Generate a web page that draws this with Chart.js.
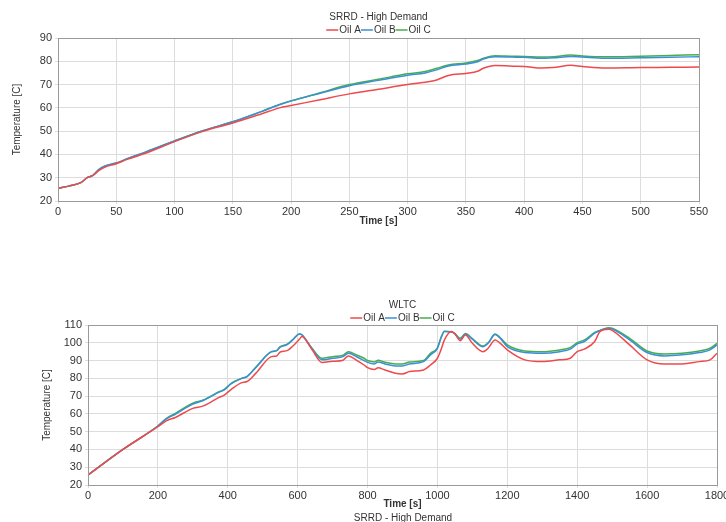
<!DOCTYPE html>
<html>
<head>
<meta charset="utf-8">
<script src="https://cdn.jsdelivr.net/npm/chart.js@4/dist/chart.umd.min.js"></script>
<style>
  html, body { margin: 0; padding: 0; background: #fff; overflow: hidden; }
  #page { position: relative; width: 726px; height: 522px; overflow: hidden; }
  .box { position: absolute; left: 0; }
  #top-box { top: 0; width: 726px; height: 232px; }
  #bot-box { top: 290px; width: 750px; height: 232px; }
  #next-title {
    position: absolute; top: 512px; left: 0; width: 806px; text-align: center;
    font: 10px "Liberation Sans", Arial, sans-serif; color: #333;
  }
</style>
</head>
<body>
<div id="page">
  <div class="box" id="top-box"><canvas id="chart-srrd"></canvas></div>
  <div class="box" id="bot-box"><canvas id="chart-wltc"></canvas></div>
  <div id="next-title">SRRD - High Demand</div>
</div>
<script>
/* Series names and colours */
var SERIES = ['Oil A', 'Oil B', 'Oil C'];
var COLOURS = ['#ee4a4c', '#3b8fd6', '#45ad4f'];

/* SRRD - High Demand: time [s] and temperature [C] */
var srrdTime = [0, 10, 20, 25, 30, 35, 40, 50, 60, 75, 100, 125, 150, 175, 190, 200, 225, 250, 275, 300,
  315, 325, 335, 350, 360, 365, 375, 390, 400, 415, 425, 440, 450, 470, 500, 525, 550];
var srrdOilA = [25.5, 26.5, 28, 30, 31, 33, 34.5, 36, 38, 40.5, 45.5, 50, 53.5, 57.5, 60, 61, 63.5, 66, 68, 70,
  71, 72, 73.9, 74.8, 75.7, 77, 78.2, 77.9, 77.8, 77.1, 77.3, 78.3, 77.8, 77.1, 77.3, 77.4, 77.5];
var srrdOilB = [25.5, 26.5, 28, 30, 31, 33.5, 35, 36.3, 38.3, 41, 45.8, 50.3, 54, 58.5, 61.3, 63, 66.3, 69.5, 71.8, 74,
  75, 76.3, 78, 78.8, 79.8, 81, 81.9, 81.8, 81.7, 81.3, 81.5, 82.1, 81.8, 81.3, 81.5, 81.7, 82];
var srrdOilC = [25.5, 26.5, 28, 30, 31, 33.5, 35, 36.3, 38.3, 41, 45.8, 50.3, 54, 58.5, 61.5, 63, 66.5, 70, 72.3, 74.6,
  75.6, 77, 78.4, 79.3, 80.3, 81.3, 82.4, 82.2, 82.1, 81.8, 81.9, 82.7, 82.3, 81.9, 82.2, 82.5, 82.8];

/* WLTC: time [s] and temperature [C] */
var wltcTime = [0, 100, 200, 225, 250, 300, 330, 375, 390, 410, 440, 455, 480, 525, 540, 550, 570, 585, 605, 612,
  640, 670, 700, 730, 745, 770, 790, 800, 820, 830, 850, 880, 900, 920, 960, 980, 1000, 1010, 1020, 1040,
  1050, 1065, 1080, 1100, 1130, 1145, 1165, 1180, 1200, 1250, 1300, 1350, 1380, 1400, 1420, 1450, 1465, 1490, 1500, 1550,
  1600, 1650, 1700, 1750, 1780, 1800];
var wltcOilA = [25.6, 40, 52.8, 56.2, 58, 63.1, 64.5, 69.3, 70.6, 73.8, 77.6, 78.2, 82.8, 92.2, 92.6, 94.8, 95.6, 97.9, 102, 103.5,
  96.5, 88.9, 89.6, 90.2, 92.6, 90, 87.5, 86, 85, 85.9, 84.7, 82.8, 82.5, 83.8, 84.7, 87.5, 91.3, 96, 101.6, 106.3,
  105, 101.2, 104.4, 99.7, 95, 96.9, 101.6, 99.7, 96, 90.4, 89.4, 90.4, 91.3, 95, 96.4, 100.7, 106.3, 107.6, 107, 98.8,
  90.4, 88.1, 88.1, 89.4, 90.4, 94.1];
var wltcOilB = [25.6, 40, 53.2, 57.3, 59.8, 65.5, 67.5, 72.2, 73.5, 77, 80, 81, 86, 95, 95.6, 97.6, 99, 101.4, 105, 104.5,
  97, 90.4, 91.3, 92.2, 94.1, 92, 90, 89, 88.1, 89.2, 88.1, 87, 87, 88.1, 89.4, 93.2, 96.9, 102.5, 106.3, 106,
  105, 102, 105, 102, 97.8, 99.7, 104.6, 102.5, 97.8, 94.5, 94.1, 95, 96.4, 99.4, 100.7, 105.4, 106.9, 108.2, 107.8, 101.6,
  94.5, 92.6, 93.2, 94.5, 96, 98.8];
var wltcOilC = [25.6, 40, 53.2, 57.5, 60.3, 66, 67.8, 72.5, 73.8, 77.2, 80, 81, 86.2, 95, 95.6, 97.8, 99.2, 101.6, 105, 104.5,
  97.2, 91.3, 92.2, 93, 95, 93, 91.3, 90, 89.2, 90.2, 89, 88.1, 88, 89.2, 90, 94.1, 97.2, 102.8, 106.5, 106.2,
  105.2, 102.5, 105.2, 102.3, 98.2, 100, 104.9, 102.8, 98.8, 95.4, 95, 96, 97.3, 100.1, 101.5, 105.8, 107, 108.5, 108.2, 102.5,
  95.4, 93.7, 94.1, 95.4, 96.9, 99.7];

var FONT = "'Liberation Sans', Arial, sans-serif";
var TEXT_COLOUR = '#333';

/* Plugin: full frame round the plot area */
var framePlugin = {
  id: 'frame',
  afterDraw: function(chart) {
    var a = chart.chartArea;
    var ctx = chart.ctx;
    ctx.save();
    ctx.strokeStyle = '#9a9a9a';
    ctx.lineWidth = 1;
    ctx.strokeRect(Math.round(a.left) + 0.5, Math.round(a.top) + 0.5,
      Math.round(a.right - a.left), Math.round(a.bottom - a.top));
    ctx.restore();
  }
};

/* Plugin: title and compact line legend above the plot, centred on it */
var headerPlugin = {
  id: 'header',
  afterDraw: function(chart, args, opts) {
    var ctx = chart.ctx;
    var a = chart.chartArea;
    var cx = (a.left + a.right) / 2;
    var lineLen = 12;
    ctx.save();
    ctx.font = '10px ' + FONT;
    ctx.fillStyle = TEXT_COLOUR;
    ctx.textBaseline = 'middle';
    ctx.textAlign = 'center';
    ctx.fillText(opts.text, cx, opts.titleY);

    var widths = SERIES.map(function(s) { return lineLen + 1 + ctx.measureText(s).width; });
    var total = widths.reduce(function(s, w) { return s + w; }, 0);
    var x = cx - total / 2;
    ctx.textAlign = 'left';
    chart.data.datasets.forEach(function(ds, i) {
      ctx.strokeStyle = ds.borderColor;
      ctx.lineWidth = 1.5;
      ctx.beginPath();
      ctx.moveTo(x, opts.legendY);
      ctx.lineTo(x + lineLen, opts.legendY);
      ctx.stroke();
      ctx.fillText(ds.label, x + lineLen + 1, opts.legendY);
      x += widths[i];
    });
    ctx.restore();
  }
};

function toPoints(xs, ys) {
  return xs.map(function(x, i) { return { x: x, y: ys[i] }; });
}

function makeChart(id, title, times, series, opts) {
  var datasets = series.map(function(values, i) {
    return {
      label: SERIES[i],
      data: toPoints(times, values),
      borderColor: COLOURS[i],
      backgroundColor: COLOURS[i],
      borderWidth: 1.5,
      pointRadius: 0,
      cubicInterpolationMode: 'monotone'
    };
  });

  return new Chart(document.getElementById(id), {
    type: 'line',
    data: { datasets: datasets },
    options: {
      responsive: true,
      maintainAspectRatio: false,
      animation: false,
      layout: { padding: opts.padding },
      scales: {
        x: {
          type: 'linear',
          min: opts.xMin, max: opts.xMax,
          ticks: {
            stepSize: opts.xStep, font: { family: FONT, size: 11 }, color: TEXT_COLOUR, padding: 1, maxRotation: 0,
            callback: function(value) { return String(value); }
          },
          grid: { color: '#dcdcdc', tickLength: 3 },
          border: { color: '#9a9a9a' },
          title: { display: true, text: 'Time [s]', font: { family: FONT, size: 10, weight: 'bold' }, color: TEXT_COLOUR, padding: 0 },
          afterFit: function(scale) { scale.height = opts.xHeight; }
        },
        y: {
          min: opts.yMin, max: opts.yMax,
          ticks: { stepSize: 10, font: { family: FONT, size: 11 }, color: TEXT_COLOUR, padding: 3 },
          grid: { color: '#dcdcdc', tickLength: 3 },
          border: { color: '#9a9a9a' },
          title: { display: true, text: 'Temperature [C]', font: { family: FONT, size: 10 }, color: TEXT_COLOUR, padding: 0 },
          afterFit: function(scale) {
            scale.width = opts.yWidth;
            scale.paddingTop = 0;
          }
        }
      },
      plugins: {
        /* title and legend are drawn by headerPlugin */
        title: { display: false },
        legend: { display: false },
        tooltip: { enabled: false },
        header: { text: title, titleY: opts.titleY, legendY: opts.legendY }
      }
    },
    plugins: [framePlugin, headerPlugin]
  });
}

makeChart('chart-srrd', 'SRRD - High Demand', srrdTime, [srrdOilA, srrdOilB, srrdOilC], {
  xMin: 0, xMax: 550, xStep: 50, yMin: 20, yMax: 90,
  yWidth: 47, xHeight: 26, titleY: 17, legendY: 30,
  padding: { left: 11, right: 27, top: 38, bottom: 5 }
});

makeChart('chart-wltc', 'WLTC', wltcTime, [wltcOilA, wltcOilB, wltcOilC], {
  xMin: 0, xMax: 1800, xStep: 200, yMin: 20, yMax: 110,
  yWidth: 47, xHeight: 25, titleY: 15, legendY: 28,
  padding: { left: 41, right: 33, top: 35, bottom: 12 }
});
</script>
</body>
</html>
